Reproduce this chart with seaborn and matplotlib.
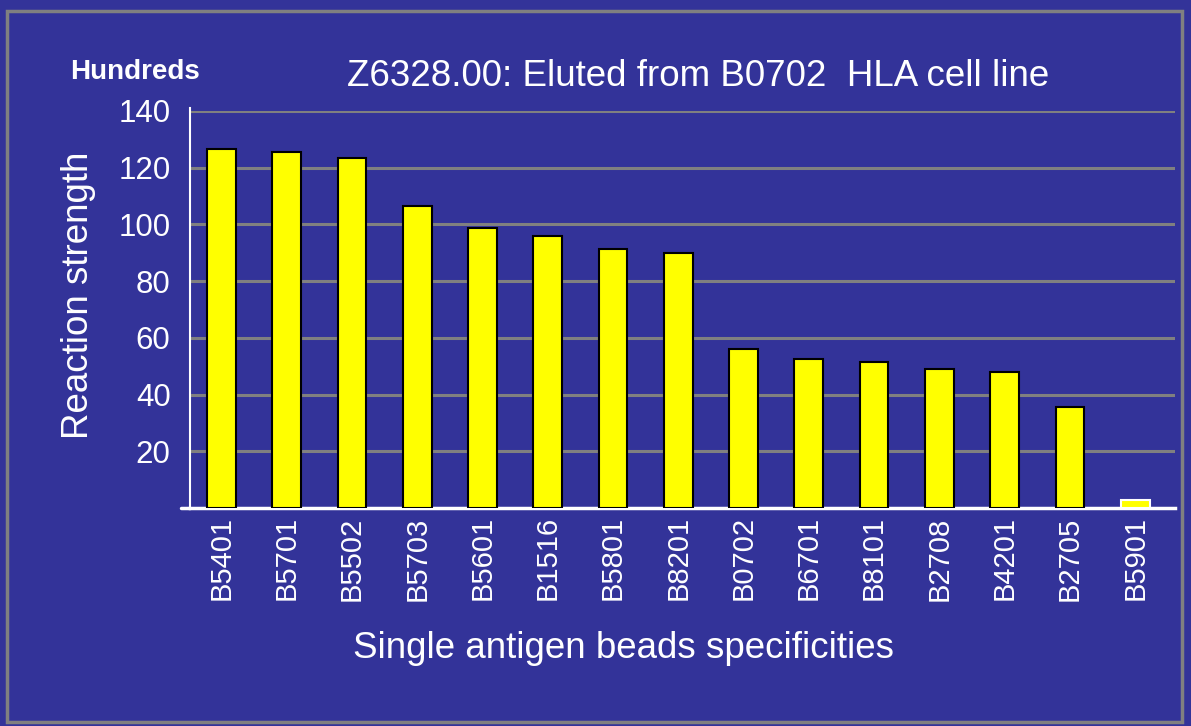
import matplotlib
matplotlib.use("Agg")
import matplotlib.pyplot as plt
import seaborn as sns
import pandas as pd
from matplotlib.patches import Rectangle

categories = ["B5401", "B5701", "B5502", "B5703", "B5601", "B1516", "B5801", "B8201",
              "B0702", "B6701", "B8101", "B2708", "B4201", "B2705", "B5901"]
values = [126.6, 125.5, 123.4, 106.5, 98.7, 95.9, 91.3, 89.9,
          56.1, 52.5, 51.6, 49.0, 47.8, 35.5, 2.8]
yticks = [20, 40, 60, 80, 100, 120, 140]

BG = "#333399"
sns.set_theme(style="white")
plt.rcParams['font.family'] = ['Liberation Sans', 'DejaVu Sans']

fig = plt.figure(figsize=(11.91, 7.26), dpi=100, facecolor=BG)
ax = fig.add_axes([190/1191, 1-508/726, (1175-190)/1191, (508-111)/726])
ax.set_facecolor(BG)

df = pd.DataFrame({"cat": categories, "val": values})
sns.barplot(data=df, x="cat", y="val", color="#FFFF00", width=0.44, ax=ax,
            saturation=1, edgecolor="black", linewidth=1.5, zorder=3)
for i, p in enumerate(ax.patches):
    if values[i] < 5:
        p.set_edgecolor("white")

ax.set_ylim(0, 140)
ax.set_xlim(-0.48, len(categories) - 1 + 0.61)
ax.set_yticks(yticks)
ax.set_yticklabels([str(t) for t in yticks], fontsize=22.5, color="white")
ax.tick_params(axis="y", length=0, pad=14)
ax.tick_params(axis="x", length=0, pad=6)
ax.set_xticks(range(len(categories)))
ax.set_xticklabels(categories, rotation=90, fontsize=21, color="white")
for t in yticks:
    ax.axhline(t, color="#808080", linewidth=2.2, zorder=1)

for s in ["top", "right"]:
    ax.spines[s].set_visible(False)
ax.spines["left"].set_color("white")
ax.spines["left"].set_linewidth(1.5)
ax.spines["left"].set_bounds(0, 141)
ax.spines["bottom"].set_color("white")
ax.spines["bottom"].set_linewidth(2.5)
ax.plot([-0.62, -0.48], [0, 0], color="white", linewidth=2.5, clip_on=False)

ax.set_xlabel("Single antigen beads specificities", fontsize=26.5, color="white", labelpad=22)
ax.xaxis.label.set_x(0.44)
ax.set_ylabel("Reaction strength", fontsize=26.5, color="white", labelpad=16)
ax.yaxis.label.set_y(0.536)

fig.text(698/1191, 1-77/726, "Z6328.00: Eluted from B0702  HLA cell line",
         fontsize=26.5, color="white", ha="center", va="center")
fig.text(70/1191, 1-72/726, "Hundreds", fontsize=20, color="white",
         fontweight="bold", ha="left", va="center")

fig.patches.append(Rectangle((7/1191, 1-722/726), (1182-7)/1191, (722-11)/726,
                             transform=fig.transFigure, fill=False,
                             edgecolor="#808080", linewidth=2.5))

fig.savefig("out.png", dpi=100, facecolor=BG)
